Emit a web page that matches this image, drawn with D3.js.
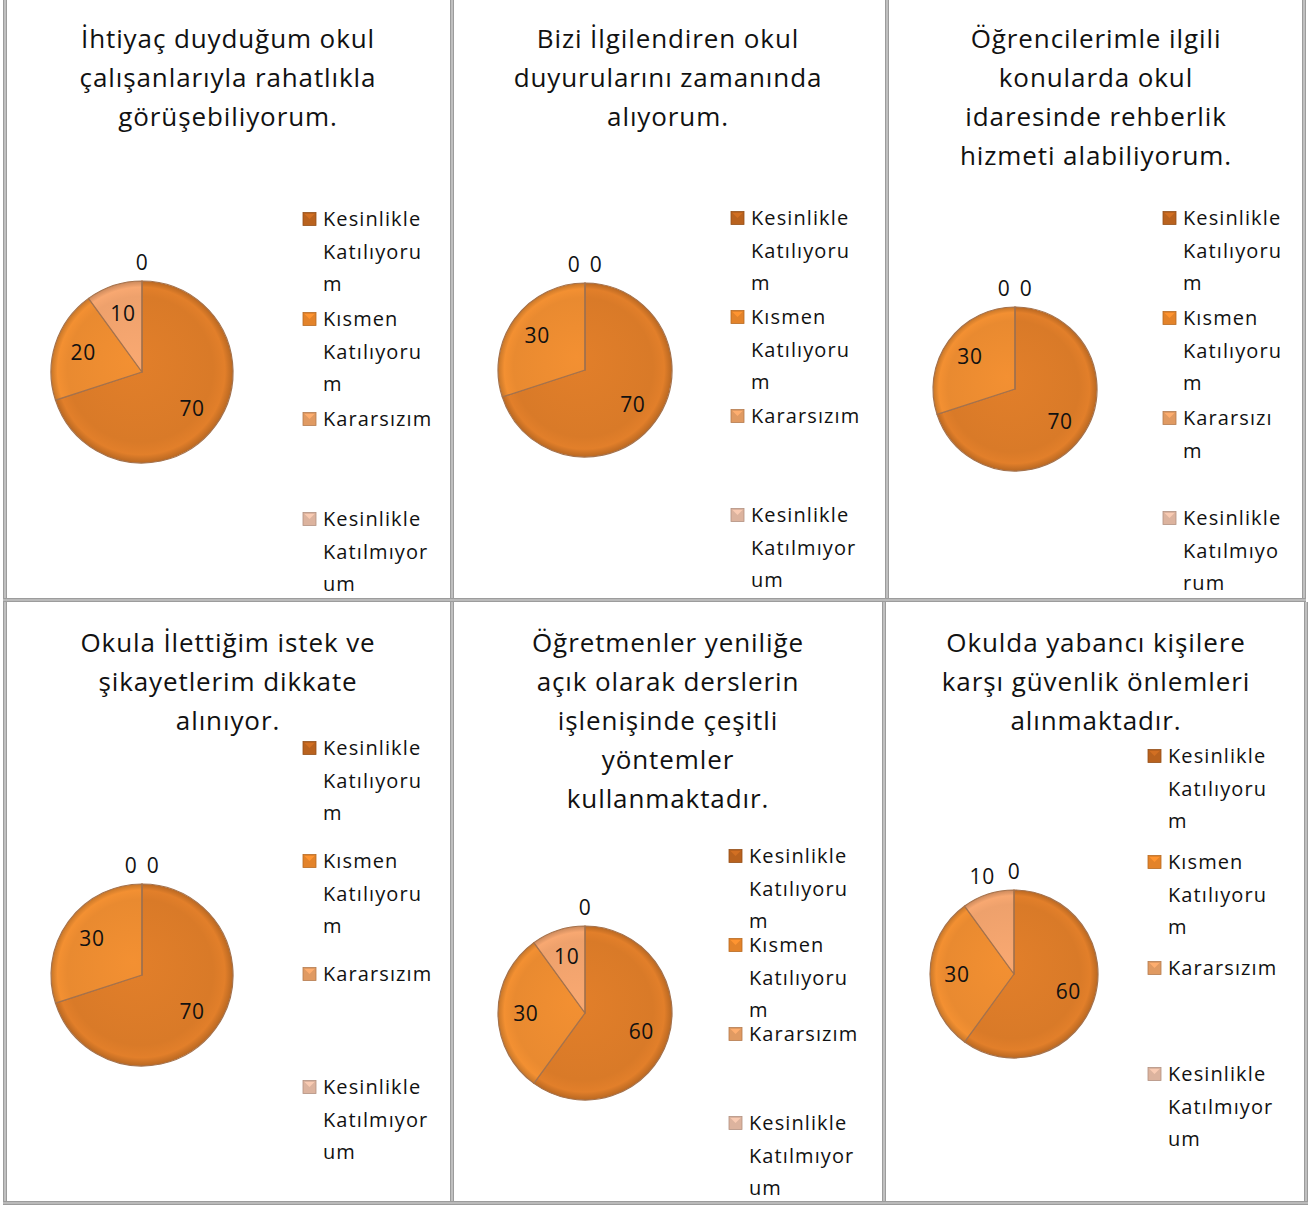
<!DOCTYPE html>
<html>
<head>
<meta charset="utf-8">
<script src="https://cdn.jsdelivr.net/npm/d3@7"></script>
<style>
  body { margin: 0; background: #fff; }
  text { font-family: "Open Sans", sans-serif; fill: #111; }
</style>
</head>
<body>
<svg id="chart" width="1314" height="1205"></svg>
<script>
// survey answers (legend)
const categories = ["Kesinlikle Katılıyorum", "Kısmen Katılıyorum", "Kararsızım", "Kesinlikle Katılmıyorum"];

// question titles, already broken into lines as in the picture
const titles = [
    ["İhtiyaç duyduğum okul", "çalışanlarıyla rahatlıkla", "görüşebiliyorum."],
    ["Bizi İlgilendiren okul", "duyurularını zamanında", "alıyorum."],
    ["Öğrencilerimle ilgili", "konularda okul", "idaresinde rehberlik", "hizmeti alabiliyorum."],
    ["Okula İlettiğim istek ve", "şikayetlerim dikkate", "alınıyor."],
    ["Öğretmenler yeniliğe", "açık olarak derslerin", "işlenişinde çeşitli", "yöntemler", "kullanmaktadır."],
    ["Okulda yabancı kişilere", "karşı güvenlik önlemleri", "alınmaktadır."]
];

// percentage per answer, one array per question
const values1 = [70, 20, 10, 0];
const values2 = [70, 30, 0, 0];
const values3 = [70, 30, 0, 0];
const values4 = [70, 30, 0, 0];
const values5 = [60, 30, 10, 0];
const values6 = [60, 30, 10, 0];
const allValues = [values1, values2, values3, values4, values5, values6];

const sliceColors = ["#d97a28", "#e98a30", "#eea16c", "#ecc0a8"];
const swatchColors = ["#b9621e", "#e3832a", "#e09a62", "#dcb39e"];

// panel layout (cells, pies, legends)
const layout = [
    {tx: 228, ty: 48, cx: 142, cy: 372, r: 91, lx: 303, ly: 219, step: 100, wrap: 115, outside: []},
    {tx: 668, ty: 48, cx: 585, cy: 370, r: 87, lx: 731, ly: 218, step: 99, wrap: 115, outside: []},
    {tx: 1096, ty: 48, cx: 1015, cy: 389, r: 82, lx: 1163, ly: 218, step: 100, wrap: 105, outside: []},
    {tx: 228, ty: 652, cx: 142, cy: 975, r: 91, lx: 303, ly: 748, step: 113, wrap: 115, outside: []},
    {tx: 668, ty: 652, cx: 585, cy: 1013, r: 87, lx: 729, ly: 856, step: 89, wrap: 115, outside: []},
    {tx: 1096, ty: 652, cx: 1014, cy: 974, r: 84, lx: 1148, ly: 756, step: 106, wrap: 115, outside: [2]}
];

const svg = d3.select("#chart");
const defs = svg.append("defs");

// cell borders (double grey line)
function border(x1, y1, x2, y2) {
    svg.append("line").attr("x1", x1).attr("y1", y1).attr("x2", x2).attr("y2", y2)
        .attr("stroke", "#9c9c9c").attr("stroke-width", 4);
    svg.append("line").attr("x1", x1).attr("y1", y1).attr("x2", x2).attr("y2", y2)
        .attr("stroke", "#d8d8d8").attr("stroke-width", 1.2);
}

// wrap a legend label by characters into a given width
function wrapChars(textSel, str, maxW) {
    let lines = [];
    let cur = "";
    let probe = textSel.append("tspan");
    for (let word of str.split(" ")) {
        let cand = cur ? cur + " " + word : word;
        probe.text(cand);
        if (probe.node().getComputedTextLength() <= maxW) { cur = cand; continue; }
        if (cur) { lines.push(cur); cur = ""; }
        // word itself too long: break mid word
        let part = "";
        for (let ch of word) {
            probe.text(part + ch);
            if (probe.node().getComputedTextLength() > maxW && part) { lines.push(part); part = ch; }
            else part += ch;
        }
        cur = part;
    }
    if (cur) lines.push(cur);
    probe.remove();
    return lines;
}

const pie = d3.pie().sort(null).value(d => d);

layout.forEach(function (L, p) {
    let vals = allValues[p];
    let g = svg.append("g");

    // title
    let t = g.append("text").attr("text-anchor", "middle")
        .style("font-size", "26px").style("letter-spacing", "0.9px");
    titles[p].forEach(function (line, i) {
        t.append("tspan").attr("x", L.tx).attr("y", L.ty + i * 39).text(line);
    });

    // gradients (user space of the translated pie group, so centred on 0,0)
    sliceColors.forEach(function (c, i) {
        let base = d3.color(c);
        let rg = defs.append("radialGradient").attr("id", "g" + p + "_" + i)
            .attr("gradientUnits", "userSpaceOnUse")
            .attr("cx", 0).attr("cy", 0).attr("r", L.r)
            .attr("fx", -L.r * 0.1).attr("fy", -L.r * 0.15);
        rg.append("stop").attr("offset", "0%").attr("stop-color", base.brighter(0.12));
        rg.append("stop").attr("offset", "80%").attr("stop-color", base);
        rg.append("stop").attr("offset", "92%").attr("stop-color", base.brighter(0.12));
        rg.append("stop").attr("offset", "100%").attr("stop-color", base.darker(0.45));
    });

    let arcs = pie(vals);
    let arc = d3.arc().innerRadius(0).outerRadius(L.r);
    let pg = g.append("g").attr("transform", "translate(" + L.cx + "," + L.cy + ")");
    pg.selectAll("path").data(arcs).enter().append("path")
        .attr("d", arc)
        .attr("fill", (d, i) => "url(#g" + p + "_" + i + ")")
        .attr("stroke", "#a5724c")
        .attr("stroke-width", 1.2)
        .attr("stroke-linejoin", "round");

    // data labels
    let zeroCount = arcs.filter(d => d.value === 0).length;
    let zi = 0;
    arcs.forEach(function (d, i) {
        let mid = (d.startAngle + d.endAngle) / 2;
        let dist, dx = 0;
        if (d.value === 0 || L.outside.indexOf(i) >= 0) {
            dist = L.r + 19;
            if (d.value === 0 && zeroCount > 1) { dx = zi === 0 ? -11 : 11; zi++; }
        } else {
            dist = L.r * 0.68;
        }
        pg.append("text")
            .attr("x", dist * Math.sin(mid) + dx)
            .attr("y", -dist * Math.cos(mid))
            .attr("dy", "0.36em")
            .attr("text-anchor", "middle")
            .style("font-size", "21px").style("letter-spacing", "0.6px")
            .text(d.value);
    });

    // legend
    categories.forEach(function (cat, i) {
        let y = L.ly + i * L.step;
        g.append("rect").attr("x", L.lx).attr("y", y - 6.5).attr("width", 13).attr("height", 13)
            .attr("fill", swatchColors[i]).attr("stroke", d3.color(swatchColors[i]).darker(0.6)).attr("stroke-width", 0.8);
        g.append("path")
            .attr("d", "M" + (L.lx + 1.5) + "," + (y - 5) + "L" + (L.lx + 6.5) + "," + (y) + "L" + (L.lx + 11.5) + "," + (y - 5) + "Z")
            .attr("fill", d3.color(swatchColors[i]).brighter(0.35));
        let tx = g.append("text").style("font-size", "20px").style("letter-spacing", "1.1px");
        let lines = wrapChars(tx, cat, L.wrap);
        lines.forEach(function (line, k) {
            tx.append("tspan").attr("x", L.lx + 20).attr("y", y + k * 32.5).attr("dy", "0.36em").text(line);
        });
    });
});

// grid lines
border(5, 0, 5, 601);
border(452, 0, 452, 601);
border(887, 0, 887, 601);
border(1304, 0, 1304, 601);
border(3, 600, 1306, 600);
border(5, 602, 5, 1204);
border(452, 602, 452, 1204);
border(884, 602, 884, 1204);
border(1306, 602, 1306, 1204);
border(3, 1203, 1308, 1203);
</script>
</body>
</html>
